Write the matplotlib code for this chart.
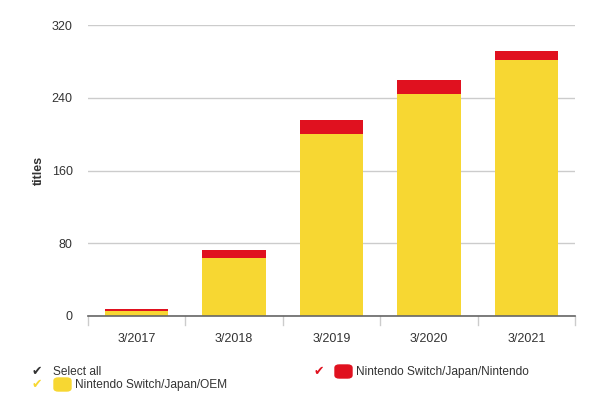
import matplotlib
matplotlib.use("Agg")
import matplotlib.pyplot as plt
from matplotlib.patches import FancyBboxPatch

# ====== DATA ======
years = ["3/2017", "3/2018", "3/2019", "3/2020", "3/2021"]
oem = [6, 64, 200, 244, 281]
nintendo = [2, 9, 15, 15, 10]
yticks = [0, 80, 160, 240, 320]
# ==================

YELLOW = "#f7d732"
RED = "#e0111f"

plt.rcParams["font.family"] = ["Liberation Sans", "DejaVu Sans"]

fig = plt.figure(figsize=(6.1, 3.99), dpi=100)
ax = fig.add_axes([88 / 610, 1 - 316 / 399, (575 - 88) / 610, (316 - 25) / 399])

x = range(len(years))
ax.bar(x, oem, width=0.65, color=YELLOW, zorder=2)
ax.bar(x, nintendo, width=0.65, bottom=oem, color=RED, zorder=2)

ax.set_xlim(-0.5, len(years) - 0.5)
ax.set_ylim(0, 320)
ax.set_yticks(yticks)
ax.set_yticklabels([str(v) for v in yticks], fontsize=9, color="#333333")
ax.set_xticks(list(x))
ax.set_xticklabels(years, fontsize=9, color="#333333")
ax.tick_params(axis="y", length=0, pad=11)
ax.tick_params(axis="x", length=0, pad=12)
ax.grid(axis="y", color="#cccccc", linewidth=1, zorder=0)
for s in ["top", "right", "left"]:
    ax.spines[s].set_visible(False)
ax.spines["bottom"].set_color("#666666")
ax.spines["bottom"].set_linewidth(1.2)
ax.spines["bottom"].set_zorder(3)

# separator ticks between categories
for b in range(len(years) + 1):
    ax.plot([b - 0.5, b - 0.5], [0, -10], color="#cccccc", lw=1, clip_on=False, zorder=1)

ax.set_ylabel("titles", fontsize=9, fontweight="bold", color="#333333", labelpad=5)

# custom legend
def px(xp, yp):
    return xp / 610, 1 - yp / 399

LFS = 8.6
fig.text(*px(32, 372), "\u2714", fontsize=9, color="#333333", va="center", ha="left")
fig.text(*px(53, 372), "Select all", fontsize=LFS, color="#333333", va="center", ha="left")

fig.text(*px(32, 385), "\u2714", fontsize=9, color=YELLOW, va="center", ha="left")
fig.patches.append(FancyBboxPatch(px(54, 391), 17 / 610, 13 / 399,
                                  boxstyle="round,pad=0,rounding_size=0.007",
                                  transform=fig.transFigure, color=YELLOW))
fig.text(*px(75, 385), "Nintendo Switch/Japan/OEM", fontsize=LFS, color="#333333", va="center", ha="left")

fig.text(*px(314, 372), "\u2714", fontsize=9, color=RED, va="center", ha="left")
fig.patches.append(FancyBboxPatch(px(335, 378), 17 / 610, 13 / 399,
                                  boxstyle="round,pad=0,rounding_size=0.007",
                                  transform=fig.transFigure, color=RED))
fig.text(*px(356, 372), "Nintendo Switch/Japan/Nintendo", fontsize=LFS, color="#333333", va="center", ha="left")

fig.savefig("out.png", dpi=100)
